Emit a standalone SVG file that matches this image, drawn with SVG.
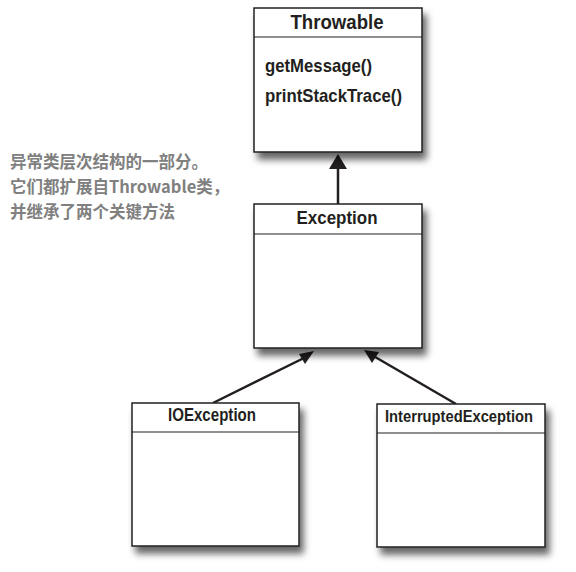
<svg xmlns="http://www.w3.org/2000/svg" width="576" height="572" viewBox="0 0 576 572">
<style>
.box{fill:#fff;stroke:#231f20;stroke-width:1.5}
.div{stroke:#231f20;stroke-width:1.2}
.t{font-family:"Liberation Sans",Arial,sans-serif;font-weight:bold;fill:#231f20}
.cn{font-family:"Noto Sans CJK SC","Liberation Sans",sans-serif;font-weight:bold;fill:#808080;font-size:16.5px}
.conn{stroke:#231f20;stroke-width:2.5;fill:none}
</style>
<defs>
<filter id="sh" x="-10%" y="-10%" width="130%" height="130%">
<feDropShadow dx="4" dy="7" stdDeviation="3.5" flood-color="#000" flood-opacity="0.6"/>
</filter>
</defs>
<rect width="576" height="572" fill="#fff"/>
<g id="caption">
<text class="cn" x="10" y="168">异常类层次结构的一部分。</text>
<text class="cn" x="10" y="193">它们都扩展自Throwable类，</text>
<text class="cn" x="10" y="218">并继承了两个关键方法</text>
</g>
<g id="connectors">
<line class="conn" x1="338" y1="204" x2="338" y2="156"/>
<path d="M329,169 L338,154 L347,169 Z" fill="#231f20"/>
<line class="conn" x1="213" y1="403" x2="308" y2="356"/>
<path d="M299,354 L314,351 L305,364 Z" fill="#231f20"/>
<line class="conn" x1="456" y1="404" x2="370" y2="354"/>
<path d="M364,350 L379,352 L372,363 Z" fill="#231f20"/>
</g>
<g id="throwable">
<rect class="box" x="254" y="8" width="168" height="144" filter="url(#sh)"/>
<line class="div" x1="254" y1="37" x2="422" y2="37"/>
<text class="t" x="337" y="29" font-size="21" text-anchor="middle" textLength="93" lengthAdjust="spacingAndGlyphs">Throwable</text>
<text class="t" x="265" y="72" font-size="19" textLength="107" lengthAdjust="spacingAndGlyphs">getMessage()</text>
<text class="t" x="265" y="102" font-size="19" textLength="137" lengthAdjust="spacingAndGlyphs">printStackTrace()</text>
</g>
<g id="exception">
<rect class="box" x="254" y="204" width="168" height="144" filter="url(#sh)"/>
<line class="div" x1="254" y1="234" x2="422" y2="234"/>
<text class="t" x="337" y="224" font-size="19" text-anchor="middle" textLength="81" lengthAdjust="spacingAndGlyphs">Exception</text>
</g>
<g id="ioexception">
<rect class="box" x="132" y="403" width="167" height="143" filter="url(#sh)"/>
<line class="div" x1="132" y1="432" x2="299" y2="432"/>
<text class="t" x="212" y="421" font-size="18" text-anchor="middle" textLength="88" lengthAdjust="spacingAndGlyphs">IOException</text>
</g>
<g id="interruptedexception">
<rect class="box" x="377" y="404" width="168" height="143" filter="url(#sh)"/>
<line class="div" x1="377" y1="433" x2="545" y2="433"/>
<text class="t" x="385" y="422" font-size="17" textLength="148" lengthAdjust="spacingAndGlyphs">InterruptedException</text>
</g>
</svg>
